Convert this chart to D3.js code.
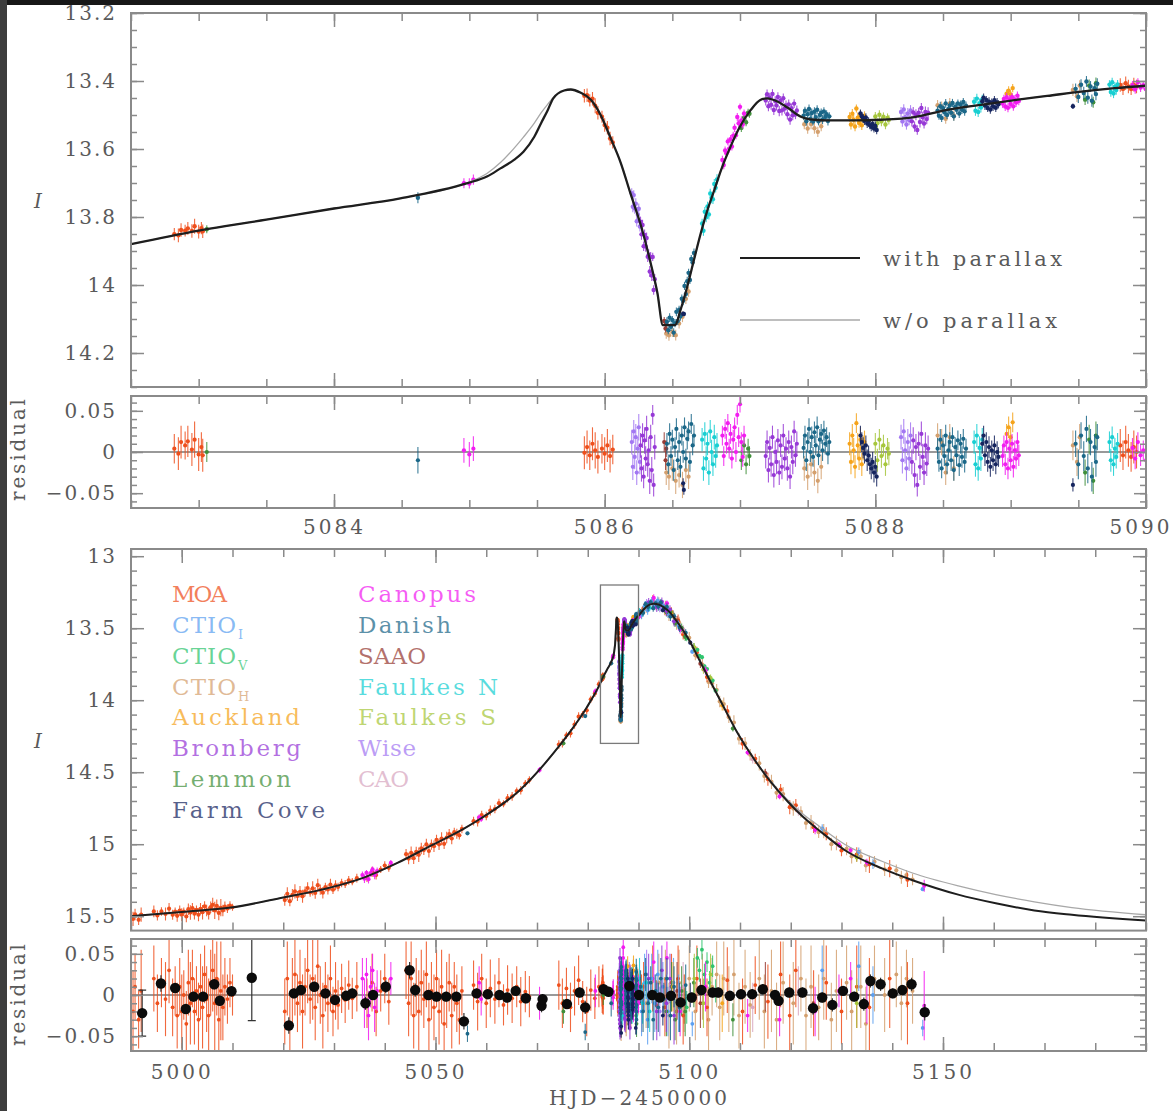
<!DOCTYPE html>
<html>
<head>
<meta charset="utf-8">
<script src="https://cdn.jsdelivr.net/npm/d3@7"></script>
<style>
  body { margin: 0; background: #fff; }
  svg { display: block; }
</style>
</head>
<body>
<svg id="chart" width="1173" height="1111"></svg>
<script>
// ---------------- model light curves ----------------
// Zoom on the planetary anomaly (HJD-2450000), with parallax
const topT = [5082.50,5083.00,5083.50,5084.00,5084.49,5084.98,5085.13,5085.23,5085.33,5085.40,5085.48,5085.53,5085.58,5085.62,5085.70,5085.75,5085.82,5085.90,5085.97,5086.04,5086.12,5086.19,5086.27,5086.34,5086.39,5086.43,5086.52,5086.56,5086.61,5086.66,5086.71,5086.76,5086.81,5086.86,5086.93,5087.00,5087.08,5087.15,5087.20,5087.28,5087.35,5087.45,5087.55,5087.65,5087.85,5088.04,5088.29,5088.53,5088.78,5089.03,5089.27,5089.52,5089.77,5090.00];
const topI = [13.880,13.840,13.808,13.775,13.745,13.701,13.681,13.657,13.632,13.608,13.564,13.524,13.485,13.451,13.428,13.425,13.434,13.456,13.500,13.564,13.642,13.730,13.828,13.936,14.024,14.118,14.118,14.074,14.005,13.926,13.848,13.779,13.721,13.662,13.593,13.534,13.485,13.456,13.451,13.461,13.478,13.505,13.514,13.516,13.516,13.514,13.506,13.485,13.470,13.456,13.444,13.431,13.421,13.414];
// same epochs, model without parallax
const topGrayI = [13.880,13.840,13.808,13.775,13.745,13.700,13.672,13.640,13.598,13.565,13.524,13.494,13.468,13.449,13.428,13.425,13.434,13.456,13.500,13.564,13.642,13.730,13.828,13.936,14.024,14.118,14.118,14.074,14.005,13.926,13.848,13.779,13.721,13.662,13.593,13.534,13.485,13.456,13.451,13.461,13.478,13.505,13.514,13.516,13.516,13.514,13.506,13.485,13.470,13.456,13.444,13.431,13.421,13.414];
// full season, before and after the anomaly window
const preT  = [4990,5000,5009.7,5020,5029.4,5036,5042.5,5049.1,5055.7,5059,5066.6,5073.2,5076.5,5079.8];
const preI  = [15.50,15.47,15.44,15.37,15.30,15.23,15.13,15.01,14.89,14.82,14.625,14.37,14.22,14.05];
const postT = [5091,5092,5093,5094,5095,5096.2,5097.5,5099.6,5102.7,5106.1,5109.4,5112.6,5115.9,5119.3,5122.4,5125.8,5130.6,5138.1,5144,5153,5160.4,5168,5175.4,5190];
const postI = [13.37,13.34,13.33,13.335,13.355,13.39,13.45,13.56,13.77,14.00,14.22,14.40,14.56,14.70,14.81,14.91,15.04,15.17,15.25,15.35,15.41,15.46,15.49,15.53];
const postGrayI = [13.37,13.34,13.33,13.335,13.355,13.39,13.45,13.56,13.77,14.00,14.22,14.40,14.555,14.69,14.79,14.88,15.00,15.12,15.20,15.29,15.35,15.40,15.44,15.49];

// ---------------- photometry: [HJD-2450000, residual (mag), error (mag)] ----------------
const moa = [
  [4990.4,-0.02,0.05],[4990.8,0.01,0.04],[4991.5,-0.03,0.035],[4992.0,0.005,0.05],[4994.5,0.02,0.04],[4995.2,-0.01,0.035],[4996.0,0.015,0.03],[4996.8,-0.005,0.045],
  [4997.5,0.03,0.04],[4998.2,-0.015,0.035],[4998.7,0.005,0.03],[4999.1,-0.025,0.04],[4999.6,0.01,0.035],[5000.0,-0.02,0.045],[5000.4,0.0,0.03],[5000.9,-0.035,0.04],
  [5001.3,0.015,0.04],[5001.7,-0.01,0.05],[5002.1,0.02,0.035],[5002.5,-0.02,0.04],[5002.9,0.005,0.03],[5003.3,-0.03,0.045],[5003.7,0.01,0.04],[5004.1,-0.015,0.05],
  [5004.5,0.025,0.035],[5004.9,-0.005,0.04],[5005.3,-0.025,0.045],[5005.7,0.015,0.04],[5006.1,0.03,0.05],[5006.5,-0.01,0.06],[5006.9,0.02,0.045],[5007.3,-0.03,0.05],
  [5007.7,0.005,0.06],[5008.1,-0.015,0.04],[5008.5,0.01,0.035],[5009.0,-0.005,0.03],[5009.5,0.015,0.03],[5010.0,0.0,0.025],
  [5020.3,-0.02,0.04],[5020.8,0.02,0.045],[5021.3,-0.035,0.035],[5021.8,0.005,0.04],[5022.3,0.025,0.05],[5022.8,-0.01,0.035],[5023.3,0.015,0.04],[5023.8,-0.02,0.045],
  [5024.3,0.01,0.035],[5024.8,0.03,0.04],[5025.3,-0.005,0.03],[5025.8,0.02,0.05],[5026.3,-0.015,0.04],[5026.8,0.035,0.045],[5027.3,0.0,0.035],[5027.8,-0.025,0.04],
  [5028.3,0.01,0.03],[5028.8,-0.01,0.035],[5029.3,0.02,0.04],[5029.8,-0.02,0.03],[5030.3,0.005,0.035],[5030.8,-0.012,0.03],[5031.5,0.008,0.03],[5032.2,-0.006,0.028],
  [5032.9,0.012,0.03],[5033.6,-0.004,0.025],[5034.5,0.01,0.03],[5036.5,-0.01,0.03],[5037.5,0.015,0.035],[5038.3,-0.02,0.03],[5039.2,0.005,0.025],[5040.0,0.02,0.03],
  [5040.8,-0.008,0.028],[5044.2,0.03,0.035],[5044.7,-0.01,0.04],[5045.2,0.02,0.045],[5045.7,-0.025,0.04],[5046.2,0.01,0.035],[5046.7,-0.02,0.05],[5047.2,0.015,0.04],
  [5047.7,-0.005,0.035],[5048.2,0.025,0.04],[5048.7,-0.03,0.045],[5049.2,0.005,0.035],[5049.7,-0.015,0.04],[5050.2,0.02,0.035],[5050.7,-0.02,0.04],[5051.2,0.01,0.045],
  [5051.7,-0.035,0.035],[5052.2,0.0,0.04],[5052.7,0.015,0.035],[5053.2,-0.025,0.04],[5053.7,0.01,0.03],[5054.2,-0.01,0.035],[5054.7,-0.03,0.03],[5055.2,0.005,0.03],
  [5057.5,0.012,0.03],[5058.3,-0.008,0.035],[5059.1,0.02,0.03],[5060.0,-0.01,0.03],[5060.8,0.008,0.035],[5061.7,-0.005,0.03],[5062.5,0.015,0.03],[5063.4,-0.012,0.025],
  [5064.2,0.006,0.03],[5065.1,-0.004,0.03],[5066.0,0.01,0.025],[5066.8,-0.008,0.03],[5067.7,0.004,0.025],[5068.5,-0.002,0.025],[5074.3,0.012,0.03],[5075.0,-0.01,0.03],
  [5075.8,0.008,0.025],[5076.6,-0.015,0.03],[5077.4,0.005,0.03],[5078.2,0.018,0.03],[5079.0,-0.008,0.025],[5079.8,-0.02,0.03],[5080.6,0.006,0.025],[5081.4,-0.004,0.025],
  [5082.2,0.01,0.025],
  [5082.82,0.004,0.018],[5082.85,-0.002,0.02],[5082.87,0.012,0.02],[5082.90,0.008,0.017],[5082.92,0.013,0.019],[5082.95,0.003,0.02],[5082.97,0.015,0.022],[5083.00,-0.003,0.02],
  [5083.02,0.006,0.018],[5083.03,-0.004,0.02],
  [5085.85,-0.001,0.02],[5085.87,0.006,0.02],[5085.89,-0.004,0.018],[5085.91,0.010,0.02],[5085.93,0.002,0.022],[5085.95,-0.006,0.02],[5085.98,0.004,0.018],[5086.00,-0.002,0.02],
  [5086.02,0.008,0.02],[5086.04,-0.005,0.02],[5086.06,0.003,0.018],
  [5089.81,0.008,0.02],[5089.83,-0.004,0.018],[5089.85,0.012,0.02],[5089.87,0.002,0.02],[5089.89,-0.006,0.018],[5089.91,0.006,0.02],[5089.93,0.0,0.02],
  [5090.6,-0.01,0.035],[5091.0,0.01,0.03],[5092.8,0.02,0.04],[5093.5,-0.012,0.03],[5095.2,-0.015,0.035],[5096.5,0.015,0.035],[5097.8,0.02,0.04],[5098.8,-0.025,0.035],
  [5099.0,-0.005,0.03],[5101.5,0.02,0.04],[5103.5,-0.015,0.035],[5107.5,0.018,0.04],[5110.5,-0.02,0.04],
  [5113.0,0.012,0.035],[5115.5,-0.008,0.045],[5118.0,0.025,0.04],[5119.8,-0.025,0.05],[5121.0,0.03,0.045],[5124.5,-0.01,0.04],[5127.0,0.015,0.045],[5130.0,-0.02,0.04],
  [5133.0,0.01,0.05],[5135.5,-0.015,0.06],[5139.5,0.02,0.06],[5143.0,-0.01,0.05]
];
const ctioI = [
  [5090.6,-0.02,0.03],[5091.2,0.015,0.035],[5091.8,-0.03,0.03],[5092.6,0.02,0.03],[5093.2,-0.01,0.035],[5093.8,0.025,0.03],[5094.8,0.01,0.03],[5095.8,-0.02,0.03],
  [5096.9,0.015,0.03],[5097.9,-0.01,0.035],[5100.6,-0.035,0.015],
  [5126.2,0.03,0.03],[5133.4,0.035,0.03],[5136.2,0.0,0.035],[5146.0,-0.04,0.01]
];
const ctioV = [
  [5099.5,-0.015,0.02],[5101.6,0.045,0.012],[5102.0,0.03,0.014],[5102.5,0.055,0.012],[5103.0,0.025,0.013],[5103.5,0.04,0.012],[5104.0,0.015,0.014],[5104.6,0.035,0.013],[5105.2,0.005,0.014]
];
const ctioH = [
  [5086.455,-0.025,0.015],[5086.475,-0.03,0.016],[5086.50,-0.02,0.015],[5086.525,-0.035,0.016],[5086.55,-0.028,0.015],[5086.575,-0.04,0.016],[5086.60,-0.022,0.015],[5086.62,-0.03,0.015],
  [5087.475,-0.02,0.015],[5087.50,-0.03,0.016],[5087.525,-0.015,0.015],[5087.55,-0.025,0.016],[5087.575,-0.035,0.015],[5087.60,-0.018,0.015],
  [5088.46,0.02,0.015],[5088.49,0.012,0.016],[5088.52,-0.025,0.015],[5088.55,0.018,0.016],[5088.58,-0.02,0.015],
  [5089.46,0.008,0.018],[5089.49,-0.012,0.017],[5089.51,0.018,0.016],
  [5091.5,-0.01,0.03],[5094.0,0.015,0.035],[5095.3,0.02,0.035],[5096.0,-0.025,0.04],[5097.5,-0.02,0.04],[5098.0,0.015,0.04],[5099.0,-0.01,0.035],[5100.0,0.02,0.04],
  [5101.2,-0.02,0.035],[5102.6,0.01,0.04],[5103.8,-0.03,0.04],[5104.5,0.01,0.035],[5105.4,0.025,0.04],[5106.0,-0.015,0.04],[5106.8,0.02,0.045],[5107.8,-0.005,0.04],[5108.8,0.025,0.05],
  [5109.8,-0.025,0.04],[5111.0,0.01,0.045],[5112.0,-0.012,0.04],[5113.8,0.02,0.05],[5114.8,-0.02,0.045],[5116.2,0.005,0.05],[5117.2,-0.03,0.045],[5118.5,0.015,0.05],
  [5120.5,-0.01,0.05],[5122.0,0.02,0.04],[5123.0,-0.025,0.045],[5124.0,0.01,0.05],[5125.5,-0.015,0.04],[5126.5,0.02,0.05],[5128.0,-0.03,0.045],[5129.0,0.005,0.05],
  [5131.0,0.015,0.045],[5132.0,-0.02,0.05],[5133.8,0.01,0.05],[5134.8,-0.035,0.045],[5136.5,0.02,0.04],[5138.5,0.0,0.045],[5140.8,0.025,0.04],[5141.8,-0.01,0.045],
  [5142.8,0.02,0.035],[5144.0,0.005,0.04]
];
const auckland = [
  [5087.81,0.01,0.014],[5087.82,-0.012,0.015],[5087.83,0.02,0.014],[5087.84,0.002,0.015],[5087.85,-0.018,0.014],[5087.86,0.035,0.012],[5087.87,0.008,0.015],[5087.88,-0.008,0.014],
  [5087.89,0.015,0.015],[5087.90,-0.015,0.014],[5087.91,0.005,0.015],[5087.92,0.012,0.014],
  [5088.97,0.022,0.012],[5088.985,0.03,0.013],[5089.00,0.018,0.012],[5089.015,0.036,0.012],
  [5096.8,0.01,0.03],[5106.5,-0.01,0.035]
];
const bronberg = [
  [5086.265,0.008,0.015],[5086.272,-0.02,0.016],[5086.280,0.02,0.015],[5086.288,-0.03,0.014],[5086.295,0.014,0.016],[5086.303,-0.008,0.015],[5086.31,0.028,0.016],[5086.318,-0.015,0.015],
  [5086.325,0.002,0.016],[5086.333,-0.035,0.016],[5086.34,0.018,0.015],[5086.348,-0.022,0.016],[5086.355,0.045,0.012],[5086.362,-0.04,0.014],[5086.37,0.006,0.015],
  [5087.19,-0.005,0.015],[5087.20,0.012,0.014],[5087.21,-0.022,0.015],[5087.22,0.005,0.014],[5087.23,-0.015,0.015],[5087.24,0.018,0.014],[5087.25,-0.028,0.015],[5087.26,0.0,0.014],
  [5087.27,-0.012,0.015],[5087.28,0.014,0.014],[5087.29,-0.025,0.015],[5087.30,0.008,0.014],[5087.31,-0.018,0.015],[5087.32,0.02,0.014],[5087.33,-0.008,0.015],[5087.34,0.004,0.014],
  [5087.35,-0.02,0.015],[5087.36,0.012,0.014],[5087.37,-0.03,0.015],[5087.38,0.006,0.014],[5087.39,-0.012,0.015],[5087.40,0.025,0.013],[5087.41,-0.004,0.014],[5087.42,0.01,0.015],
  [5088.27,-0.012,0.015],[5088.28,0.014,0.016],[5088.29,-0.028,0.015],[5088.30,0.006,0.016],[5088.31,-0.04,0.014],[5088.32,0.01,0.015],[5088.33,-0.018,0.016],[5088.34,0.022,0.015],
  [5088.35,-0.006,0.016],[5088.36,-0.025,0.015],[5088.37,0.008,0.016],[5088.38,-0.014,0.015],[5088.39,0.004,0.016],
  [5092.0,0.02,0.03],[5093.6,-0.02,0.035],[5094.6,0.03,0.03],[5095.5,-0.01,0.035],[5096.2,0.02,0.03],[5097.0,-0.025,0.035]
];
const lemmon = [
  [5083.06,0.0,0.012],
  [5087.01,-0.01,0.012],[5087.03,0.008,0.012],[5087.045,-0.015,0.012],[5087.06,0.004,0.012],[5087.07,-0.005,0.012],
  [5089.55,-0.025,0.016],[5089.58,0.015,0.018],[5089.61,-0.035,0.016],[5089.63,0.02,0.017],
  [5075.2,-0.02,0.015],[5095.5,-0.02,0.03],[5096.5,0.01,0.03],[5097.2,-0.03,0.025],[5098.5,0.005,0.03],[5099.2,-0.02,0.03],[5100.9,0.015,0.03],[5108.6,-0.03,0.02]
];
const farmCove = [
  [5086.58,-0.038,0.006],[5086.585,-0.046,0.006],
  [5087.89,0.02,0.012],[5087.90,0.012,0.012],[5087.91,0.005,0.013],[5087.92,-0.002,0.012],[5087.93,0.008,0.012],[5087.94,-0.01,0.013],[5087.95,-0.004,0.012],[5087.96,-0.015,0.012],
  [5087.97,-0.02,0.013],[5087.98,-0.012,0.012],[5087.99,-0.025,0.012],[5088.00,-0.018,0.013],[5088.01,-0.03,0.012],
  [5088.79,0.01,0.012],[5088.80,0.02,0.012],[5088.81,-0.004,0.013],[5088.82,0.012,0.012],[5088.83,-0.012,0.012],[5088.84,0.006,0.013],[5088.85,-0.018,0.012],[5088.86,0.002,0.012],
  [5088.87,-0.01,0.013],[5088.88,0.008,0.012],[5088.89,-0.015,0.012],[5088.90,0.0,0.013],[5088.91,-0.006,0.012],
  [5089.46,-0.04,0.008],[5094.8,-0.025,0.012],[5100.2,0.0,0.015]
];
const canopus = [
  [5084.96,0.002,0.015],[5085.00,-0.003,0.015],[5085.03,0.004,0.015],
  [5086.87,0.02,0.012],[5086.88,-0.005,0.012],[5086.89,0.028,0.012],[5086.90,0.01,0.012],[5086.91,0.035,0.011],[5086.92,0.004,0.012],[5086.93,0.022,0.012],[5086.94,-0.008,0.012],
  [5086.95,0.015,0.012],[5086.96,0.03,0.012],[5086.97,0.0,0.012],[5086.98,0.045,0.012],[5086.99,0.018,0.012],[5087.00,0.058,0.01],[5087.01,0.012,0.012],[5087.02,-0.006,0.012],
  [5087.03,0.02,0.012],
  [5088.94,-0.005,0.013],[5088.95,0.008,0.012],[5088.96,-0.015,0.013],[5088.97,0.012,0.012],[5088.98,-0.02,0.013],[5088.99,0.004,0.012],[5089.00,-0.01,0.013],[5089.01,0.01,0.012],
  [5089.02,-0.018,0.013],[5089.03,0.002,0.012],[5089.04,-0.008,0.013],[5089.05,0.012,0.012],[5089.06,-0.004,0.013],
  [5089.90,0.005,0.012],[5089.92,-0.008,0.013],[5089.94,0.012,0.012],[5089.96,-0.004,0.013],[5089.98,0.002,0.012],[5090.00,-0.01,0.012],
  [5035.6,0.02,0.025],[5036.0,-0.01,0.03],[5036.4,0.025,0.02],[5036.8,-0.025,0.03],[5037.2,0.01,0.025],[5037.6,0.03,0.02],[5038.0,-0.015,0.03],[5038.5,0.005,0.025],
  [5041.2,0.02,0.02],[5058.6,0.015,0.02],[5059.0,-0.005,0.02],[5070.5,-0.01,0.02],[5081.5,0.005,0.02],[5093.0,0.04,0.025],[5095.6,0.045,0.02],[5098.2,-0.02,0.03],
  [5103.2,0.01,0.03],[5111.5,-0.025,0.02],[5117.8,-0.03,0.02],[5124.8,-0.02,0.03],[5129.5,0.005,0.02],[5131.8,0.02,0.02],[5135.0,-0.01,0.025],[5146.3,-0.013,0.042]
];
const danish = [
  [5084.62,-0.01,0.016],[5056.3,-0.047,0.01],[5079.5,-0.045,0.01],
  [5086.46,0.01,0.013],[5086.47,-0.015,0.012],[5086.48,0.022,0.013],[5086.49,-0.005,0.012],[5086.50,0.015,0.012],[5086.51,-0.022,0.013],[5086.52,0.006,0.012],[5086.53,0.028,0.013],
  [5086.54,-0.01,0.012],[5086.55,0.012,0.012],[5086.56,-0.018,0.013],[5086.57,0.02,0.012],[5086.58,0.0,0.013],[5086.59,0.03,0.012],[5086.60,-0.008,0.012],[5086.61,0.016,0.013],
  [5086.62,0.025,0.012],[5086.63,-0.012,0.012],[5086.64,0.034,0.012],[5086.65,0.008,0.012],[5086.66,0.02,0.013],
  [5087.47,0.005,0.013],[5087.48,0.02,0.012],[5087.49,-0.01,0.013],[5087.50,0.012,0.012],[5087.51,0.028,0.013],[5087.52,0.0,0.012],[5087.53,0.018,0.013],[5087.54,-0.006,0.012],
  [5087.55,0.024,0.013],[5087.56,0.008,0.012],[5087.57,0.03,0.013],[5087.58,-0.004,0.012],[5087.59,0.015,0.013],[5087.60,0.022,0.012],[5087.61,0.002,0.013],[5087.62,0.026,0.012],
  [5087.63,0.01,0.013],[5087.64,0.018,0.012],[5087.65,-0.002,0.013],[5087.66,0.012,0.012],
  [5088.46,0.004,0.013],[5088.47,-0.012,0.012],[5088.48,0.015,0.013],[5088.49,-0.02,0.012],[5088.50,0.008,0.013],[5088.51,-0.005,0.012],[5088.52,0.02,0.013],[5088.53,-0.015,0.012],
  [5088.54,0.002,0.013],[5088.55,0.012,0.012],[5088.56,-0.01,0.013],[5088.57,0.018,0.012],[5088.58,-0.022,0.013],[5088.59,0.006,0.012],[5088.60,-0.004,0.013],[5088.61,0.014,0.012],
  [5088.62,-0.016,0.013],[5088.63,0.01,0.012],[5088.64,-0.006,0.013],[5088.65,0.016,0.012],[5088.66,-0.012,0.013],[5088.67,0.004,0.012],
  [5089.48,0.01,0.016],[5089.50,-0.015,0.018],[5089.52,0.02,0.016],[5089.54,-0.005,0.018],[5089.56,0.028,0.016],[5089.57,-0.02,0.018],[5089.59,0.012,0.016],[5089.60,-0.03,0.018],
  [5089.62,0.006,0.016],[5089.63,-0.012,0.018],[5089.64,0.018,0.016],
  [5090.4,0.01,0.02],[5090.9,-0.02,0.025],[5091.4,0.025,0.02],[5091.9,-0.01,0.03],[5092.4,0.015,0.02],[5092.9,-0.03,0.025],[5093.4,0.005,0.02],[5093.9,-0.015,0.03],
  [5094.4,0.02,0.025],[5095.0,-0.005,0.02],[5095.6,0.02,0.025],[5096.3,-0.025,0.03],[5097.0,0.01,0.025],[5098.1,-0.015,0.03],[5099.3,0.012,0.025]
];
const saao = [
  [5086.44,0.012,0.012],[5086.45,-0.01,0.012],[5086.455,0.004,0.01],
  [5097.6,0.005,0.035],[5102.2,-0.01,0.03],[5115.0,0.01,0.03]
];
const faulkesN = [
  [5086.72,0.015,0.014],[5086.73,-0.02,0.015],[5086.74,0.022,0.014],[5086.75,-0.008,0.015],[5086.76,0.01,0.014],[5086.77,-0.025,0.015],[5086.78,0.025,0.014],[5086.79,0.0,0.015],
  [5086.80,-0.015,0.014],[5086.81,0.018,0.015],[5086.82,-0.005,0.014],[5086.83,0.008,0.015],
  [5088.73,0.012,0.014],[5088.74,-0.015,0.015],[5088.75,0.02,0.014],[5088.76,-0.02,0.015],[5088.77,0.005,0.014],[5088.78,-0.008,0.015],[5088.79,0.015,0.014],
  [5089.73,0.012,0.013],[5089.74,-0.01,0.014],[5089.75,0.018,0.013],[5089.76,-0.015,0.014],[5089.77,0.004,0.013],[5089.78,-0.006,0.014],[5089.79,0.01,0.013],
  [5090.2,0.02,0.025],[5090.8,-0.01,0.025],[5091.5,0.015,0.02],[5092.2,-0.02,0.025]
];
const faulkesS = [
  [5088.00,0.01,0.013],[5088.015,-0.01,0.014],[5088.03,0.015,0.013],[5088.045,-0.005,0.014],[5088.06,0.008,0.013],[5088.075,-0.015,0.014],[5088.09,0.004,0.013],[5088.10,-0.002,0.014],
  [5101.0,0.02,0.03],[5102.8,-0.01,0.03],[5104.2,0.025,0.025],[5133.0,-0.01,0.03]
];
const wise = [
  [5086.200,0.012,0.015],[5086.208,-0.018,0.016],[5086.215,0.025,0.014],[5086.222,-0.006,0.015],[5086.230,0.018,0.016],[5086.237,-0.025,0.015],[5086.245,0.004,0.014],[5086.252,0.030,0.016],
  [5086.260,-0.012,0.015],
  [5088.19,0.018,0.015],[5088.20,-0.01,0.016],[5088.21,0.025,0.015],[5088.22,0.002,0.016],[5088.23,-0.02,0.015],[5088.24,0.012,0.016],[5088.25,-0.008,0.015],[5088.26,0.02,0.016],
  [5091.6,0.025,0.03],[5094.2,-0.02,0.03]
];
const cao = [[5098.8,0.01,0.03],[5112.5,-0.015,0.03],[5121.5,0.005,0.03]];

// binned residuals (black dots): [HJD-2450000, residual, error]
const binned = [
  [4992.2,-0.022,0.028],[4995.9,0.014,0.01],[4998.7,0.0085,0.006],[5000.8,-0.017,0.006],[5002.3,-0.002,0.006],[5004.2,-0.002,0.006],[5006.4,0.013,0.006],[5007.5,-0.007,0.006],
  [5009.8,0.0045,0.006],[5013.8,0.021,0.052],[5021.1,-0.037,0.01],[5022.1,0.002,0.006],[5023.5,0.006,0.006],[5026.1,0.01,0.006],[5028.3,0.002,0.006],[5030.2,-0.006,0.006],
  [5032.4,-0.001,0.006],[5033.6,0.002,0.006],[5036.2,-0.01,0.008],[5037.7,0.0,0.006],[5040.2,0.01,0.008],[5044.9,0.03,0.01],[5046.0,0.006,0.008],[5048.6,0.0,0.006],
  [5050.2,-0.002,0.006],[5052.1,-0.002,0.006],[5054.1,-0.002,0.006],[5055.6,-0.032,0.01],[5058.1,0.002,0.006],[5060.3,0.001,0.006],[5062.6,0.0,0.006],[5064.1,-0.003,0.006],
  [5065.8,0.005,0.006],[5067.8,-0.004,0.006],[5070.9,-0.013,0.008],[5071.1,-0.005,0.006],[5075.9,-0.011,0.006],[5078.4,0.003,0.006],[5079.5,-0.015,0.008],[5083.1,0.007,0.006],
  [5084.1,0.004,0.006],[5088.2,0.011,0.006],[5090.1,0.0,0.005],[5092.7,0.0,0.005],[5094.2,-0.003,0.005],[5096.4,-0.001,0.005],[5098.3,-0.009,0.006],[5100.5,-0.003,0.006],
  [5102.4,0.006,0.006],[5104.6,0.003,0.006],[5105.7,0.003,0.006],[5108.0,-0.001,0.006],[5110.2,0.001,0.006],[5112.4,0.001,0.006],[5114.5,0.007,0.006],[5116.9,0.0,0.006],
  [5117.6,-0.007,0.006],[5119.7,0.003,0.006],[5122.3,0.003,0.006],[5124.4,-0.016,0.008],[5126.2,-0.003,0.006],[5128.2,-0.012,0.008],[5130.3,0.005,0.006],[5132.5,-0.002,0.006],
  [5134.4,-0.011,0.008],[5135.7,0.017,0.008],[5137.7,0.013,0.008],[5140.1,0.002,0.006],[5142.0,0.006,0.006],[5143.8,0.013,0.008],[5146.4,-0.021,0.01]
];

// ---------------- observatories ----------------
const siteNames = ["MOA","CTIO","CTIO","CTIO","Auckland","Bronberg","Lemmon","Farm Cove","Canopus","Danish","SAAO","Faulkes N","Faulkes S","Wise","CAO"];
const siteSubs  = ["","I","V","H","","","","","","","","","","",""];
const siteData  = [moa,ctioI,ctioV,ctioH,auckland,bronberg,lemmon,farmCove,canopus,danish,saao,faulkesN,faulkesS,wise,cao];
const siteColors = ["#ee4f1c","#5b9ff0","#2fc46e","#d4a06e","#f5a31a","#9638d6","#3f8f3a","#15245e","#f21cf0","#1b6788","#963a33","#18cfd2","#a6c63c","#a277f2","#d8a6c0"];
// drawing order (back to front)
const drawOrder = [3,0,14,10,1,2,6,12,13,5,4,11,8,9,7];

// tick values and labels
const topYTicks = [13.2,13.4,13.6,13.8,14,14.2];
const resYTicks = [0.05,0,-0.05];
const topXTicks = [5084,5086,5088,5090];
const botYTicks = [13,13.5,14,14.5,15,15.5];
const botXTicks = [5000,5050,5100,5150];

// ---------------- layout ----------------
const W = 1173, H = 1111, L = 131, R = 1146;
const svg = d3.select("#chart");
svg.append("rect").attr("width", W).attr("height", H).attr("fill", "#fff");

const xTop = d3.scaleLinear().domain([5082.5, 5090]).range([L, R]);
const xBot = d3.scaleLinear().domain([4990, 5190]).range([L, R]);
const yA = d3.scaleLinear().domain([13.2, 14.3]).range([13, 387]);
const yB = d3.scaleLinear().domain([0.068, -0.068]).range([396, 508]);
const yC = d3.scaleLinear().domain([12.95, 15.6]).range([549, 930.6]);
const yD = d3.scaleLinear().domain([0.068, -0.068]).range([939, 1051]);

const FONT = "'DejaVu Serif','Liberation Serif',serif";
const INK = "#5a5a5a", FRAME = "#8a8a8a";
const fmt = v => (v < 0 ? "\u2212" : "") + String(Math.abs(v));

// model curve interpolation over the merged season
const fullT = preT.concat(topT, postT);
const fullI = preI.concat(topI, postI);
const fullGrayI = preI.concat(topGrayI, postGrayI);
const bis = d3.bisector(d => d).left;
function modelAt(t) {
  const i = bis(fullT, t);
  if (i <= 0) return fullI[0];
  if (i >= fullT.length) return fullI[fullI.length - 1];
  const t0 = fullT[i - 1], t1 = fullT[i];
  return fullI[i - 1] + (fullI[i] - fullI[i - 1]) * (t - t0) / (t1 - t0);
}

let clipId = 0;
function panel(x, y, opt) {
  const [x0, x1] = x.range(), [y0, y1] = y.range();
  const g = svg.append("g");
  const id = "clip" + (clipId++);
  g.append("clipPath").attr("id", id).append("rect")
    .attr("x", x0).attr("y", Math.min(y0, y1)).attr("width", x1 - x0).attr("height", Math.abs(y1 - y0));
  const body = g.append("g").attr("clip-path", `url(#${id})`);

  // ticks: minor then major, on all four sides, pointing inwards
  const yMinor = d3.range(opt.yMinor[0], opt.yMinor[1] + 1e-9, opt.yMinor[2]);
  const xMinor = d3.range(opt.xMinor[0], opt.xMinor[1] + 1e-9, opt.xMinor[2]);
  const styleAxis = sel => { sel.select(".domain").remove(); sel.selectAll("line").attr("stroke", FRAME).attr("stroke-width", 1.5); };
  g.append("g").attr("transform", `translate(${x0},0)`).call(d3.axisLeft(y).tickValues(yMinor).tickSize(-opt.yMinLen).tickFormat("")).call(styleAxis);
  g.append("g").attr("transform", `translate(${x1},0)`).call(d3.axisRight(y).tickValues(yMinor).tickSize(-opt.yMinLen).tickFormat("")).call(styleAxis);
  g.append("g").attr("transform", `translate(0,${y1})`).call(d3.axisBottom(x).tickValues(xMinor).tickSize(-opt.xMinLen).tickFormat("")).call(styleAxis);
  g.append("g").attr("transform", `translate(0,${y0})`).call(d3.axisTop(x).tickValues(xMinor).tickSize(-opt.xMinLen).tickFormat("")).call(styleAxis);

  const yl = g.append("g").attr("transform", `translate(${x0},0)`)
    .call(d3.axisLeft(y).tickValues(opt.yTicks).tickSize(-opt.yMajLen).tickPadding(14).tickFormat(fmt)).call(styleAxis);
  yl.selectAll("text").attr("font-family", FONT).attr("font-size", 20).attr("fill", INK).attr("letter-spacing", "2px");
  g.append("g").attr("transform", `translate(${x1},0)`).call(d3.axisRight(y).tickValues(opt.yTicks).tickSize(-opt.yMajLen).tickFormat("")).call(styleAxis);
  const xb = g.append("g").attr("transform", `translate(0,${y1})`)
    .call(d3.axisBottom(x).tickValues(opt.xTicks).tickSize(-opt.xMajLen).tickPadding(opt.xPad).tickFormat(opt.xLabels ? d => String(d) : ""))
    .call(styleAxis);
  xb.selectAll("text").attr("font-family", FONT).attr("font-size", 20).attr("fill", INK).attr("letter-spacing", "3px");
  // a label sitting on the right frame edge is kept inside the page
  xb.selectAll("text").filter(d => x(d) > x1 - 1).attr("text-anchor", "end").attr("x", W - 1 - x1);
  g.append("g").attr("transform", `translate(0,${y0})`).call(d3.axisTop(x).tickValues(opt.xTicks).tickSize(-opt.xMajLen).tickFormat("")).call(styleAxis);

  g.append("rect").attr("x", x0).attr("y", Math.min(y0, y1)).attr("width", x1 - x0).attr("height", Math.abs(y1 - y0))
    .attr("fill", "none").attr("stroke", FRAME).attr("stroke-width", 2);
  return body;
}

function drawPoints(body, x, y, val, r) {
  drawOrder.forEach(k => {
    const col = siteColors[k];
    const grp = body.append("g");
    grp.selectAll("line").data(siteData[k]).join("line")
      .attr("x1", d => x(d[0])).attr("x2", d => x(d[0]))
      .attr("y1", d => y(val(d) + d[2])).attr("y2", d => y(val(d) - d[2]))
      .attr("stroke", col).attr("stroke-width", 1.1).attr("stroke-opacity", 0.85);
    grp.selectAll("circle").data(siteData[k]).join("circle")
      .attr("cx", d => x(d[0])).attr("cy", d => y(val(d))).attr("r", r)
      .attr("fill", col);
  });
}
const magOf = d => modelAt(d[0]) - d[1];
const resOf = d => d[1];

function curve(body, x, y, ts, vs, color, width) {
  body.append("path").datum(d3.zip(ts, vs))
    .attr("d", d3.line().curve(d3.curveMonotoneX).x(d => x(d[0])).y(d => y(d[1])))
    .attr("fill", "none").attr("stroke", color).attr("stroke-width", width).attr("stroke-linejoin", "round");
}
function zeroLine(body, x, y) {
  body.append("line").attr("x1", x.range()[0]).attr("x2", x.range()[1]).attr("y1", y(0)).attr("y2", y(0))
    .attr("stroke", "#777").attr("stroke-width", 1.3);
}

// ---------------- panel A: anomaly light curve ----------------
const A = panel(xTop, yA, { yTicks: topYTicks, yMinor: [13.2, 14.3, 0.05], xTicks: topXTicks, xMinor: [5082.5, 5090, 0.5],
  yMajLen: 13, yMinLen: 6, xMajLen: 14, xMinLen: 8, xPad: 12, xLabels: false });
drawPoints(A, xTop, yA, magOf, 2.2);
curve(A, xTop, yA, topT, topGrayI, "#a8a8a8", 1.3);
curve(A, xTop, yA, topT, topI, "#1e1e1e", 2.3);
// line-style key
const key = svg.append("g");
key.append("line").attr("x1", 740).attr("x2", 860).attr("y1", 258).attr("y2", 258).attr("stroke", "#1e1e1e").attr("stroke-width", 2.2);
key.append("line").attr("x1", 740).attr("x2", 860).attr("y1", 320).attr("y2", 320).attr("stroke", "#a8a8a8").attr("stroke-width", 1.3);
key.append("text").attr("x", 883).attr("y", 266).attr("textLength", 179).attr("lengthAdjust", "spacing")
  .attr("font-family", FONT).attr("font-size", 21).attr("fill", INK).text("with parallax");
key.append("text").attr("x", 883).attr("y", 328).attr("textLength", 174).attr("lengthAdjust", "spacing")
  .attr("font-family", FONT).attr("font-size", 21).attr("fill", INK).text("w/o parallax");

// ---------------- panel B: anomaly residuals ----------------
const B = panel(xTop, yB, { yTicks: resYTicks, yMinor: [-0.06, 0.06, 0.01], xTicks: topXTicks, xMinor: [5082.5, 5090, 0.5],
  yMajLen: 12, yMinLen: 6, xMajLen: 14, xMinLen: 8, xPad: 12, xLabels: true });
zeroLine(B, xTop, yB);
drawPoints(B, xTop, yB, resOf, 2.1);

// ---------------- panel C: full season light curve ----------------
const C = panel(xBot, yC, { yTicks: botYTicks, yMinor: [13, 15.5, 0.1], xTicks: botXTicks, xMinor: [4990, 5190, 10],
  yMajLen: 13, yMinLen: 6, xMajLen: 14, xMinLen: 8, xPad: 12, xLabels: false });
drawPoints(C, xBot, yC, magOf, 2.1);
curve(C, xBot, yC, fullT, fullGrayI, "#a8a8a8", 1.3);
curve(C, xBot, yC, fullT, fullI, "#1e1e1e", 2);
// window of the upper panels
C.append("rect").attr("x", xBot(5082.5)).attr("y", yC(13.2)).attr("width", xBot(5090) - xBot(5082.5)).attr("height", yC(14.3) - yC(13.2))
  .attr("fill", "none").attr("stroke", "#7a7a7a").attr("stroke-width", 1.3);

// observatory key
const leg = svg.append("g").attr("font-family", FONT).attr("font-size", 23);
const legWidths = [55, 64, 64, 64, 128, 129, 119, 153, 118, 93, 68, 140, 138, 58, 51];
siteNames.forEach((name, i) => {
  const col = i < 8 ? 0 : 1, row = i < 8 ? i : i - 8;
  const t = leg.append("text").attr("x", col ? 358 : 172).attr("y", 602 + row * 30.86)
    .attr("fill", siteColors[i]).attr("fill-opacity", 0.72);
  t.append("tspan").attr("textLength", legWidths[i]).attr("lengthAdjust", "spacing").text(name);
  if (siteSubs[i]) t.append("tspan").attr("font-size", 13).attr("dy", 6).attr("dx", 1).text(siteSubs[i]);
});

// ---------------- panel D: full season residuals ----------------
const D = panel(xBot, yD, { yTicks: resYTicks, yMinor: [-0.06, 0.06, 0.01], xTicks: botXTicks, xMinor: [4990, 5190, 10],
  yMajLen: 12, yMinLen: 6, xMajLen: 14, xMinLen: 8, xPad: 14, xLabels: true });
zeroLine(D, xBot, yD);
drawPoints(D, xBot, yD, resOf, 1.9);
const bins = D.append("g");
bins.selectAll("line.eb").data(binned).join("line").attr("class", "eb")
  .attr("x1", d => xBot(d[0])).attr("x2", d => xBot(d[0]))
  .attr("y1", d => yD(d[1] + d[2])).attr("y2", d => yD(d[1] - d[2]))
  .attr("stroke", "#333").attr("stroke-width", 1.2);
bins.selectAll("path.cap").data(binned.filter(d => d[2] > 0.015)).join("path").attr("class", "cap")
  .attr("d", d => `M${xBot(d[0]) - 4},${yD(d[1] + d[2])}h8M${xBot(d[0]) - 4},${yD(d[1] - d[2])}h8`)
  .attr("stroke", "#333").attr("stroke-width", 1.2);
bins.selectAll("circle").data(binned).join("circle")
  .attr("cx", d => xBot(d[0])).attr("cy", d => yD(d[1])).attr("r", 5.2).attr("fill", "#0b0b0b");

// ---------------- axis titles ----------------
const titles = svg.append("g").attr("font-family", FONT).attr("fill", INK);
titles.append("text").attr("x", 38).attr("y", 208).attr("text-anchor", "middle").attr("font-size", 20).attr("font-style", "italic").text("I");
titles.append("text").attr("x", 38).attr("y", 748).attr("text-anchor", "middle").attr("font-size", 20).attr("font-style", "italic").text("I");
[450, 995].forEach(cy => {
  titles.append("text").attr("transform", `translate(25,${cy}) rotate(-90)`).attr("text-anchor", "middle")
    .attr("font-size", 20).attr("textLength", 102).attr("lengthAdjust", "spacing").text("residual");
});
titles.append("text").attr("x", 549).attr("y", 1105).attr("font-size", 20).attr("textLength", 178).attr("lengthAdjust", "spacing")
  .text("HJD\u22122450000");

// dark window edges
svg.append("rect").attr("x", 0).attr("y", 0).attr("width", W).attr("height", 5).attr("fill", "#171717");
svg.append("rect").attr("x", 0).attr("y", 0).attr("width", 7).attr("height", H).attr("fill", "#3d3d3d");
</script>
</body>
</html>
